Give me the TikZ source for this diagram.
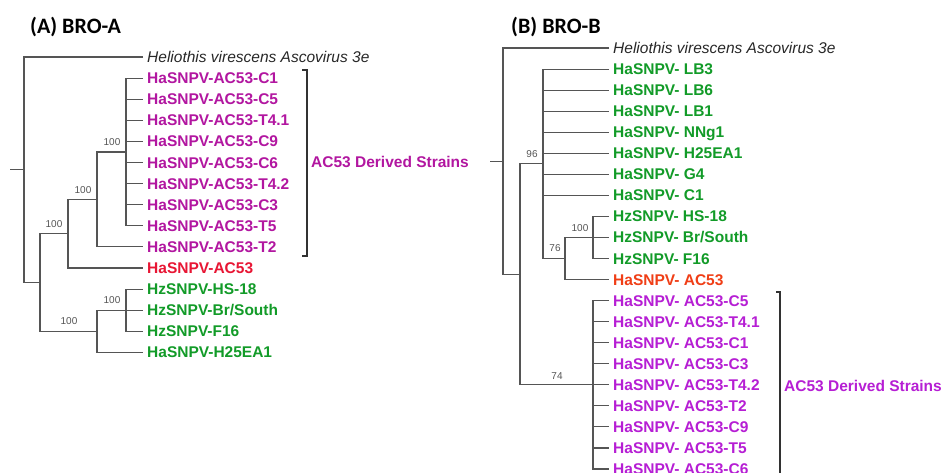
\documentclass[tikz,border=0pt]{standalone}
\usepackage{fontspec}
\setmainfont{Liberation Sans}
\newfontfamily\titlefont{Carlito}
\definecolor{magA}{RGB}{178,22,160}
\definecolor{redA}{RGB}{232,22,52}
\definecolor{grn}{RGB}{18,155,40}
\definecolor{purB}{RGB}{182,30,212}
\definecolor{orB}{RGB}{240,62,22}
\definecolor{linegray}{RGB}{85,85,85}
\definecolor{textgray}{RGB}{40,40,40}
\definecolor{brk}{RGB}{50,50,50}
\tikzset{
  branch/.style={draw=linegray, line width=1.1pt},
  bracketline/.style={draw=brk, line width=1.2pt},
  leaf/.style={anchor=west, inner xsep=4pt, inner ysep=0pt, text height=11pt, text depth=0pt,
    font=\fontsize{15.5}{18}\selectfont\bfseries},
  outg/.style={anchor=west, inner xsep=4pt, inner ysep=0pt, text height=11pt, text depth=0pt,
    font=\fontsize{15.5}{18}\selectfont\itshape, text=textgray},
  boot/.style={font=\fontsize{10}{12}\selectfont, text=linegray, inner sep=0pt},
  ttl/.style={anchor=west, inner sep=0pt, font=\titlefont\fontsize{22}{26}\selectfont\bfseries},
  grp/.style={anchor=west, inner sep=0pt, text height=11pt, text depth=0pt,
    font=\fontsize{15.5}{18}\selectfont\bfseries},
}
\begin{document}
\begin{tikzpicture}[x=1pt,y=-1pt]
\useasboundingbox (0,0) rectangle (944,472);
\clip (0,0) rectangle (944,472);
\fill[white] (0,0) rectangle (944,472);

% ---------------- Panel A ----------------
\node[ttl] (titleA) at (30,27) {(A) BRO-A};

\node[outg] (ahv) at (143,57) {Heliothis virescens Ascovirus 3e};
\node[leaf,text=magA] (ac1) at (143,78.1) {HaSNPV-AC53-C1};
\node[leaf,text=magA] (ac5) at (143,99.2) {HaSNPV-AC53-C5};
\node[leaf,text=magA] (at41) at (143,120.3) {HaSNPV-AC53-T4.1};
\node[leaf,text=magA] (ac9) at (143,141.4) {HaSNPV-AC53-C9};
\node[leaf,text=magA] (ac6) at (143,162.5) {HaSNPV-AC53-C6};
\node[leaf,text=magA] (at42) at (143,183.6) {HaSNPV-AC53-T4.2};
\node[leaf,text=magA] (ac3) at (143,204.7) {HaSNPV-AC53-C3};
\node[leaf,text=magA] (at5) at (143,225.8) {HaSNPV-AC53-T5};
\node[leaf,text=magA] (at2) at (143,246.9) {HaSNPV-AC53-T2};
\node[leaf,text=redA] (aac53) at (143,268) {HaSNPV-AC53};
\node[leaf,text=grn] (ahs18) at (143,289.1) {HzSNPV-HS-18};
\node[leaf,text=grn] (abr) at (143,310.2) {HzSNPV-Br/South};
\node[leaf,text=grn] (af16) at (143,331.3) {HzSNPV-F16};
\node[leaf,text=grn] (ah25) at (143,352.4) {HaSNPV-H25EA1};

\coordinate (stubA) at (10,169.75);
\coordinate (rA) at (24,169.75);
\coordinate (a1) at (40,282.5);
\coordinate (a2) at (68,233.7);
\coordinate (a3) at (97,199.4);
\coordinate (a4) at (126,151.95);
\coordinate (a5) at (97,331.3);
\coordinate (a6) at (126,310.2);

\draw[branch] (stubA) -- (rA);
\draw[branch] (ahv.west) -| (rA |- a1) -- (a1);
\draw[branch] (a2) -| (a1 |- a5) -- (a5);
\draw[branch] (a3) -| (a2 |- aac53.west) -- (aac53.west);
\draw[branch] (a4) -| (a3 |- at2.west) -- (at2.west);
\draw[branch] (ac1.west) -| (a4 |- at5.west) -- (at5.west);
\foreach \n in {ac5,at41,ac9,ac6,at42,ac3} \draw[branch] (a4 |- \n.west) -- (\n.west);
\draw[branch] (a6) -| (a5 |- ah25.west) -- (ah25.west);
\draw[branch] (ahs18.west) -| (a6 |- af16.west) -- (af16.west);
\draw[branch] (a6) -- (abr.west);

\node[boot] (bA4) at (112,142) {100};
\node[boot] (bA3) at (83,190) {100};
\node[boot] (bA2) at (54,224) {100};
\node[boot] (bA5) at (69,321) {100};
\node[boot] (bA6) at (112,300) {100};

\coordinate (brA1) at (302,70);
\coordinate (brAt) at (307,70);
\coordinate (brAb) at (307,256);
\coordinate (brA2) at (302,256);
\draw[bracketline] (brA1) -- (brAt) -- (brAb) -- (brA2);
\node[grp,text=magA] (derA) at (311,162) {AC53 Derived Strains};

% ---------------- Panel B ----------------
\node[ttl] (titleB) at (511,27) {(B) BRO-B};

\node[outg] (bhv) at (609,48) {Heliothis virescens Ascovirus 3e};
\node[leaf,text=grn] (blb3) at (609,69.05) {HaSNPV- LB3};
\node[leaf,text=grn] (blb6) at (609,90.1) {HaSNPV- LB6};
\node[leaf,text=grn] (blb1) at (609,111.15) {HaSNPV- LB1};
\node[leaf,text=grn] (bnng) at (609,132.2) {HaSNPV- NNg1};
\node[leaf,text=grn] (bh25) at (609,153.25) {HaSNPV- H25EA1};
\node[leaf,text=grn] (bg4) at (609,174.3) {HaSNPV- G4};
\node[leaf,text=grn] (bc1g) at (609,195.35) {HaSNPV- C1};
\node[leaf,text=grn] (bhs18) at (609,216.4) {HzSNPV- HS-18};
\node[leaf,text=grn] (bbr) at (609,237.45) {HzSNPV- Br/South};
\node[leaf,text=grn] (bf16) at (609,258.5) {HzSNPV- F16};
\node[leaf,text=orB] (bac53) at (609,279.55) {HaSNPV- AC53};
\node[leaf,text=purB] (bc5) at (609,300.6) {HaSNPV- AC53-C5};
\node[leaf,text=purB] (bt41) at (609,321.65) {HaSNPV- AC53-T4.1};
\node[leaf,text=purB] (bc1) at (609,342.7) {HaSNPV- AC53-C1};
\node[leaf,text=purB] (bc3) at (609,363.75) {HaSNPV- AC53-C3};
\node[leaf,text=purB] (bt42) at (609,384.8) {HaSNPV- AC53-T4.2};
\node[leaf,text=purB] (bt2) at (609,405.85) {HaSNPV- AC53-T2};
\node[leaf,text=purB] (bc9) at (609,426.9) {HaSNPV- AC53-C9};
\node[leaf,text=purB] (bt5) at (609,447.95) {HaSNPV- AC53-T5};
\node[leaf,text=purB] (bc6) at (609,469) {HaSNPV- AC53-C6};

\coordinate (stubB) at (490,161.15);
\coordinate (rB) at (503,161.15);
\coordinate (b1) at (520,274.3);
\coordinate (b2) at (543,163.8);
\coordinate (b3) at (593,384.8);
\coordinate (b4) at (565,258.5);
\coordinate (b5) at (593,237.45);

\draw[branch] (stubB) -- (rB);
\draw[branch] (bhv.west) -| (rB |- b1) -- (b1);
\draw[branch] (b2) -| (b1 |- b3) -- (b3);
\draw[branch] (blb3.west) -| (b2 |- b4) -- (b4);
\foreach \n in {blb6,blb1,bnng,bh25,bg4,bc1g} \draw[branch] (b2 |- \n.west) -- (\n.west);
\draw[branch] (b5) -| (b4 |- bac53.west) -- (bac53.west);
\draw[branch] (bhs18.west) -| (b5 |- bf16.west) -- (bf16.west);
\draw[branch] (b5) -- (bbr.west);
\draw[branch] (bc5.west) -| (b3 |- bc6.west) -- (bc6.west);
\foreach \n in {bt41,bc1,bc3,bt42,bt2,bc9,bt5} \draw[branch] (b3 |- \n.west) -- (\n.west);

\node[boot] (bB2) at (532,154) {96};
\node[boot] (bB5) at (580,228) {100};
\node[boot] (bB4) at (555,248) {76};
\node[boot] (bB3) at (557,376) {74};

\coordinate (brB1) at (776,292);
\coordinate (brBt) at (780,292);
\coordinate (brBb) at (780,480);
\draw[bracketline] (brB1) -- (brBt) -- (brBb);
\node[grp,text=purB] (derB) at (784,386) {AC53 Derived Strains};
\end{tikzpicture}
\end{document}
